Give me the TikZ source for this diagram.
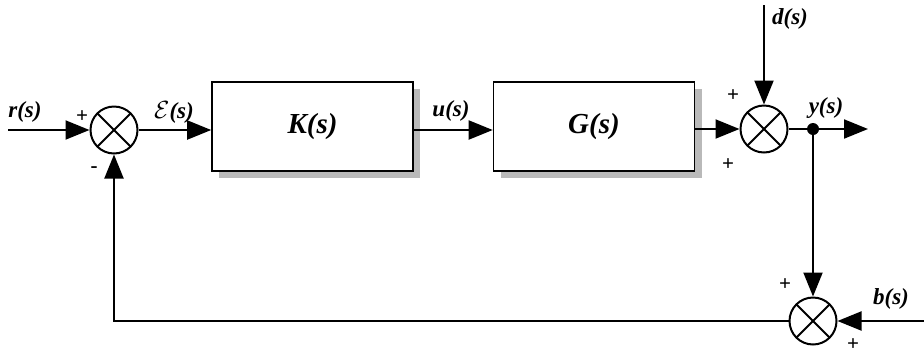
\documentclass[tikz,border=0pt]{standalone}
\usepackage{fontspec}
\setmainfont{Liberation Serif}
\usepackage{tikz}
\usetikzlibrary{arrows.meta, positioning, shadows}

\begin{document}
\begin{tikzpicture}[x=1pt, y=-1pt,
  block/.style={rectangle, draw, line width=1.6pt, minimum width=201pt, minimum height=89pt, fill=white,
    font=\fontsize{29}{33}\selectfont\bfseries\itshape,
    drop shadow={shadow xshift=7pt, shadow yshift=-7pt, fill=gray!55, opacity=1}},
  sumjn/.style={circle, draw, line width=2pt, minimum size=47pt, inner sep=0pt,
    path picture={
      \draw[line width=2pt] (path picture bounding box.north west) -- (path picture bounding box.south east);
      \draw[line width=2pt] (path picture bounding box.north east) -- (path picture bounding box.south west);
    }},
  dot/.style={circle, fill, inner sep=0pt, minimum size=12pt},
  sig/.style={line width=2pt, -{Triangle[length=24pt, width=19pt]}},
  wire/.style={line width=2pt},
  lab/.style={font=\fontsize{23}{26}\selectfont\bfseries\itshape, inner sep=0pt},
  sgn/.style={font=\fontsize{21}{23}\selectfont\bfseries, inner sep=0pt},
]
  \useasboundingbox (0,0) rectangle (924,357);

  % summing junctions and blocks
  \node[sumjn] (s1) at (114,130) {};
  \node[block] (K) at (312.5,126.5) {K(s)};
  \node[block] (G) at (594,126.5) {G(s)};
  \node[sumjn] (s2) at (764,129) {};
  \node[dot] (yn) at (813,129) {};
  \node[sumjn] (s3) at (813,321) {};

  % free ends
  \coordinate (rin) at (8,130);
  \coordinate (din) at (764,5);
  \coordinate (yout) at (868,129);
  \coordinate (bin) at (924,321);

  % signals
  \draw[sig] (rin) -- (s1.west);
  \draw[sig] (s1.east) -- (K.west |- s1.east);
  \draw[sig] (K.east |- s1.east) -- (G.west |- s1.east);
  \draw[sig] (G.east |- s2.west) -- (s2.west);
  \draw[sig] (din) -- (s2.north);
  \draw[wire] (s2.east) -- (yn);
  \draw[sig] (yn) -- (yout);
  \draw[sig] (yn) -- (s3.north);
  \draw[sig] (bin) -- (s3.east);
  \draw[sig] (s3.west) -| (s1.south);

  % labels
  \node[lab] (rlab) at (25,112) {r(s)};
  \node[lab] (elab) at (174,112) {$\mathcal{E}$(s)};
  \node[lab] (ulab) at (451,111) {u(s)};
  \node[lab] (dlab) at (790,19) {d(s)};
  \node[lab] (ylab) at (826,108) {y(s)};
  \node[lab] (blab) at (891,299) {b(s)};

  % signs
  \node[sgn] at (82,117) {+};
  \node[sgn] at (94,170) {-};
  \node[sgn] at (733,96) {+};
  \node[sgn] at (728,165) {+};
  \node[sgn] at (785,285) {+};
  \node[sgn] at (853,345) {+};
\end{tikzpicture}
\end{document}
